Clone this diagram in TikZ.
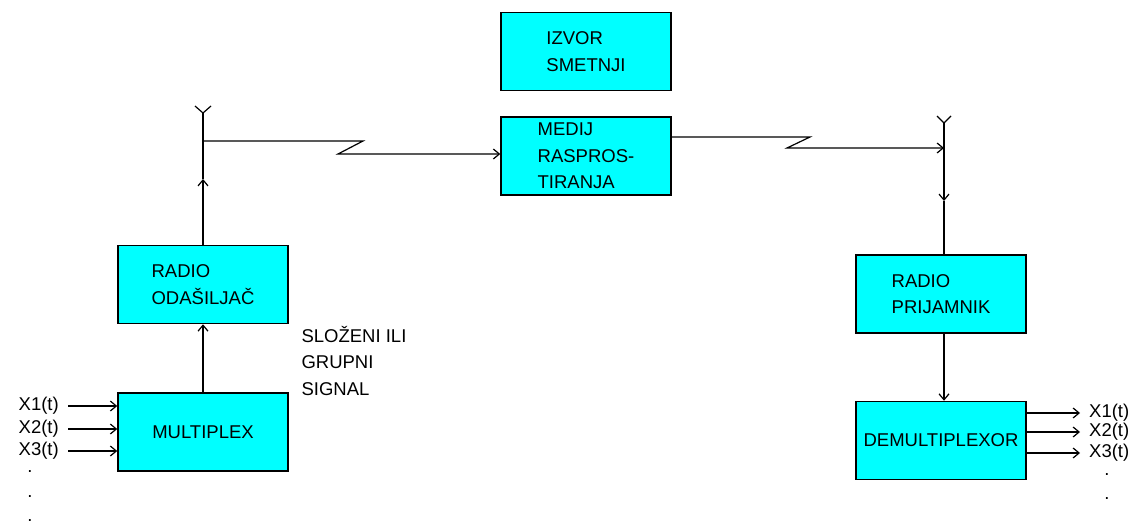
\documentclass[tikz,border=0pt]{standalone}
\usepackage{fontspec}
\setmainfont{Liberation Sans}
\usetikzlibrary{arrows.meta,positioning,calc}
\definecolor{boxcyan}{HTML}{00FFFF}

\begin{document}
\begin{tikzpicture}[x=1pt, y=-1pt, >={Straight Barb[length=6pt,width=10pt]},
  every node/.style={font=\fontsize{18.5}{26.5}\selectfont},
  blk/.style={draw, line width=1.5pt, fill=boxcyan, minimum width=170pt, minimum height=78pt, align=left, inner sep=0pt},
  sig/.style={line width=1.2pt},
  lbl/.style={inner xsep=9pt, inner ysep=0pt},
  pt/.style={inner sep=0pt}]
\useasboundingbox (0,0) rectangle (1146,524);
% blocks
\node[blk] (izvor) at (586,51.5) {IZVOR\\SMETNJI};
\node[blk, below=25pt of izvor] (medij) {MEDIJ\\RASPROS-\\TIRANJA};
\node[blk] (odasiljac) at (203,284.5) {RADIO\\ODAŠILJAČ};
\node[blk, below=68pt of odasiljac] (multiplex) {MULTIPLEX};
\node[blk] (prijamnik) at (941,294) {RADIO\\PRIJAMNIK};
\node[blk, below=67pt of prijamnik] (demux) {DEMULTIPLEXOR};
\node[align=left, anchor=west] (slozeni) at (298,361) {SLOŽENI ILI\\GRUPNI\\SIGNAL};

% antennas and radio link
\coordinate (txant) at (203,113);
\coordinate (txarr) at (203,179);
\coordinate (txz1) at (363,141);
\coordinate (txz2) at (338,154);
\coordinate (rxant) at (944,123);
\coordinate (rxarr) at (944,201);
\coordinate (rxz1) at (810,137);
\coordinate (rxz2) at (787,148);
\draw[sig] (txant) ++(-8,-7) -- (txant) -- ++(8,-7);
\draw[sig] (rxant) ++(-7,-7) -- (rxant) -- ++(7,-7);
\draw[sig,->] (multiplex) -- (odasiljac);
\draw[sig,->] (odasiljac.north) -- (txarr);
\draw[sig] (txarr) -- (txant);
\draw[sig,->] (txant |- txz1) -- (txz1) -- (txz2) -- (txz2 -| medij.west);
\draw[sig,->] (medij.east |- rxz1) -- (rxz1) -- (rxz2) -- (rxz2 -| rxant);
\draw[sig,->] (rxant) -- (rxarr);
\draw[sig] (rxarr) -- (rxarr |- prijamnik.north);
\draw[sig,->] (rxarr |- prijamnik.south) -- (rxarr |- demux.north);

% inputs and outputs
\foreach \i/\y in {1/406,2/429,3/451}{
  \node[lbl, anchor=east] (in\i) at (68,\y) {X\i(t)};
  \draw[sig,->] (in\i) -- (in\i -| multiplex.west);
}
\foreach \i/\y in {1/413,2/432,3/453}{
  \node[lbl, anchor=west] (out\i) at (1080,\y) {X\i(t)};
  \draw[sig,->] (out\i -| demux.east) -- (out\i);
}
\node[pt] (indot1) at (30,472) {.};
\node[pt] (indot2) at (30,497) {.};
\node[pt] (indot3) at (30,521) {.};
\node[pt] (outdot1) at (1107,475) {.};
\node[pt] (outdot2) at (1107,499) {.};
\end{tikzpicture}
\end{document}
